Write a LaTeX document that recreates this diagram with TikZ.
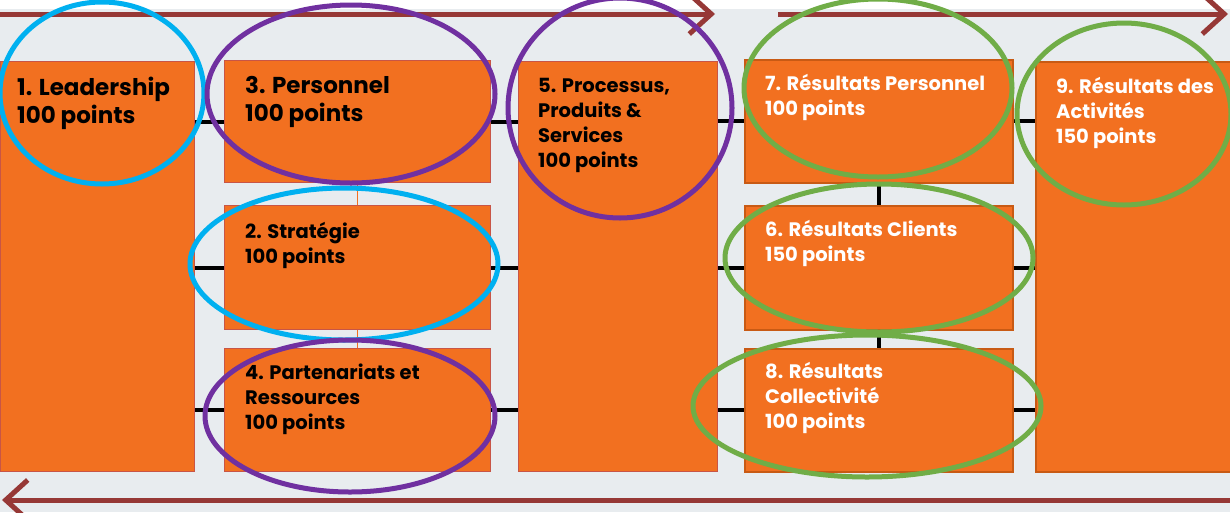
\documentclass[tikz,border=0pt]{standalone}
\usepackage{fontspec}
\setmainfont{Poppins}
\usetikzlibrary{positioning,arrows.meta}

\definecolor{boxorange}{RGB}{242,112,32}
\definecolor{edgered}{RGB}{200,85,70}
\definecolor{edgeorange}{RGB}{200,90,20}
\definecolor{arrowred}{RGB}{150,56,54}
\definecolor{bgback}{RGB}{232,236,239}
\definecolor{ringcyan}{RGB}{0,176,240}
\definecolor{ringpurple}{RGB}{112,48,160}
\definecolor{ringgreen}{RGB}{112,173,71}

\begin{document}
\begin{tikzpicture}[x=1pt,y=-1pt,
    box/.style = {draw=edgered,line width=1pt,fill=boxorange,anchor=north west,inner sep=0pt},
    resbox/.style = {box,draw=edgeorange,line width=1.5pt},
    lbl/.style = {anchor=north west,align=left,inner sep=0pt,
                  font=\fontsize{19.5}{25}\selectfont\bfseries},
    biglbl/.style = {lbl,font=\fontsize{23}{28}\selectfont\bfseries},
    link/.style = {line width=4pt,black},
    flow/.style = {line width=5pt,arrowred,-{Straight Barb[length=22pt,width=40pt,line width=5pt]}},
    ring/.style = {line width=5pt}]
    \useasboundingbox (0,0) rectangle (1230,512);
    \fill[bgback] (0,0) rectangle (1230,512);
    \fill[white] (0,0) rectangle (1230,9);

    % enablers
    \node[box,minimum width=194pt,minimum height=410pt] (b1) at (0,61) {};
    \node[box,minimum width=266pt,minimum height=122pt] (b3) at (224,60) {};
    \node[box,minimum width=266pt,minimum height=124pt] (b2) at (224,205) {};
    \node[box,minimum width=266pt,minimum height=123pt] (b4) at (224,348) {};
    \node[box,minimum width=199pt,minimum height=410pt] (b5) at (518,61) {};
    % results
    \node[resbox,minimum width=268pt,minimum height=123pt] (b7) at (744,59) {};
    \node[resbox,minimum width=268pt,minimum height=124pt] (b6) at (744,205) {};
    \node[resbox,minimum width=268pt,minimum height=123pt] (b8) at (744,348) {};
    \node[resbox,minimum width=196pt,minimum height=410pt] (b9) at (1035,61) {};

    \draw[link] (b3.west) -- (b3.west -| b1.east);
    \draw[link] (b2.west) -- (b2.west -| b1.east);
    \draw[link] (b4.west) -- (b4.west -| b1.east);
    \draw[link] (b3.east) -- (b3.east -| b5.west);
    \draw[link] (b2.east) -- (b2.east -| b5.west);
    \draw[link] (b4.east) -- (b4.east -| b5.west);
    \draw[link] (b7.west) -- (b7.west -| b5.east);
    \draw[link] (b6.west) -- (b6.west -| b5.east);
    \draw[link] (b8.west) -- (b8.west -| b5.east);
    \draw[link] (b7.east) -- (b7.east -| b9.west);
    \draw[link] (b6.east) -- (b6.east -| b9.west);
    \draw[link] (b8.east) -- (b8.east -| b9.west);
    \draw[link] (b7.south) -- (b6.north);
    \draw[link] (b6.south) -- (b8.north);
    \draw[boxorange,line width=1pt] (b3.south) -- (b2.north);
    \draw[boxorange,line width=1pt] (b2.south) -- (b4.north);

    \node[biglbl,below right=16pt and 17pt of b1.north west] (t1) {1. Leadership\\100 points};
    \node[biglbl,below right=16pt and 21pt of b3.north west] (t3) {3. Personnel\\100 points};
    \node[lbl,below right=17pt and 21pt of b2.north west] (t2) {2. Stratégie\\100 points};
    \node[lbl,below right=16pt and 21pt of b4.north west] (t4) {4. Partenariats et\\Ressources\\100 points};
    \node[lbl,below right=17pt and 20pt of b5.north west] (t5) {5. Processus,\\Produits \&\\Services\\100 points};
    \node[lbl,white,below right=15pt and 21pt of b7.north west] (t7) {7. Résultats Personnel\\100 points};
    \node[lbl,white,below right=15pt and 21pt of b6.north west] (t6) {6. Résultats Clients\\150 points};
    \node[lbl,white,below right=14pt and 21pt of b8.north west] (t8) {8. Résultats\\Collectivité\\100 points};
    \node[lbl,white,below right=16pt and 21pt of b9.north west] (t9) {9. Résultats des\\Activités\\150 points};

    % cycle arrows
    \coordinate (a0) at (0,14);
    \coordinate (a1) at (715,14);
    \coordinate (a2) at (778,14);
    \coordinate (a3) at (1228,14);
    \coordinate (a4) at (1230,500);
    \coordinate (a5) at (2,500);
    \draw[flow] (a0) -- (a1);
    \draw[flow] (a2) -- (a3);
    \draw[flow] (a4) -- (a5);

    % highlights
    \draw[ring,ringcyan] (102,93) ellipse [x radius=102,y radius=91];
    \draw[ring,ringcyan] (344,264) ellipse [x radius=154,y radius=76];
    \draw[ring,ringpurple] (351,94) ellipse [x radius=144,y radius=89];
    \draw[ring,ringpurple] (350,416) ellipse [x radius=145,y radius=76];
    \draw[ring,ringpurple] (620,108) ellipse [x radius=112,y radius=110];
    \draw[ring,ringgreen] (878,88) ellipse [x radius=134,y radius=89];
    \draw[ring,ringgreen] (879,258) ellipse [x radius=154,y radius=74];
    \draw[ring,ringgreen] (867,406) ellipse [x radius=174,y radius=71];
    \draw[ring,ringgreen] (1124,114) ellipse [x radius=107,y radius=91];
\end{tikzpicture}
\end{document}
